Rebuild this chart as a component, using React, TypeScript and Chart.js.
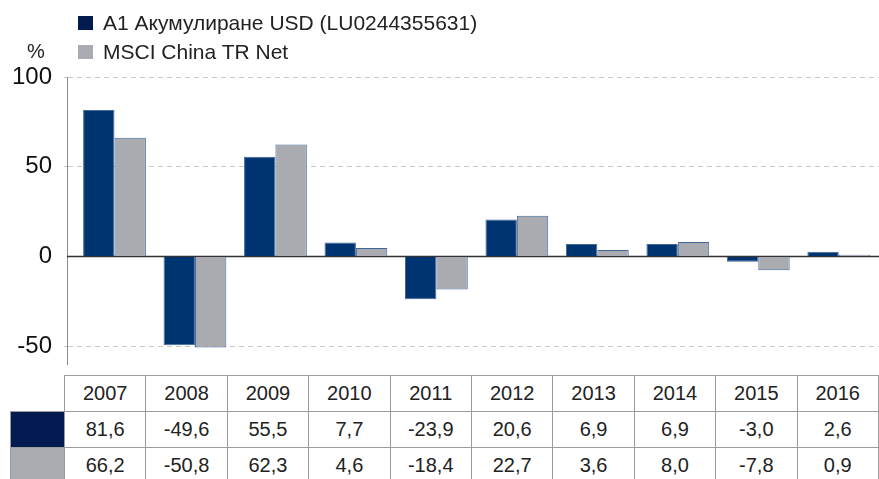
import React, { useEffect, useRef } from "react";
import { Chart, registerables } from "chart.js";

Chart.register(...registerables);

const years = ["2007", "2008", "2009", "2010", "2011", "2012", "2013", "2014", "2015", "2016"];
const fundValues = [81.6, -49.6, 55.5, 7.7, -23.9, 20.6, 6.9, 6.9, -3.0, 2.6];
const indexValues = [66.2, -50.8, 62.3, 4.6, -18.4, 22.7, 3.6, 8.0, -7.8, 0.9];
const yTicks = [-50, 0, 50, 100];
const seriesNames = ["A1 Акумулиране USD (LU0244355631)", "MSCI China TR Net"];
const seriesColors = ["#003470", "#a9abb0"];
const tableColors = ["#011a50", "#a9acb1"];

const FONT = "'Liberation Sans', Arial, sans-serif";

const fmt = (v: number) => v.toFixed(1).replace(".", ",");

export default function App() {
  const ref = useRef<HTMLCanvasElement | null>(null);

  useEffect(() => {
    if (!ref.current) return;
    const zeroLine = {
      id: "zeroLine",
      beforeDatasetsDraw(chart: any) {
        const y = chart.scales.y.getPixelForValue(0);
        const { left, right } = chart.chartArea;
        const ctx = chart.ctx;
        ctx.save();
        ctx.strokeStyle = "#333333";
        ctx.lineWidth = 1.5;
        ctx.beginPath();
        ctx.moveTo(left, y);
        ctx.lineTo(right, y);
        ctx.stroke();
        ctx.restore();
      },
    };
    const chart = new Chart(ref.current, {
      type: "bar",
      data: {
        datasets: [fundValues, indexValues].map((vals, d) => ({
          label: seriesNames[d],
          data: vals.map((v, i) => ({ x: i, y: v })),
          backgroundColor: seriesColors[d],
          borderColor: "#42679a",
          borderWidth: 1,
          categoryPercentage: 0.78,
          barPercentage: 1.0,
        })),
      },
      options: {
        animation: false,
        responsive: false,
        layout: { padding: { top: 77, bottom: 11, left: 0, right: 0 } },
        plugins: { legend: { display: false }, tooltip: { enabled: false } },
        scales: {
          x: {
            type: "linear",
            display: false,
            offset: false,
            min: -0.59,
            max: 9.5,
            afterBuildTicks: (scale: any) => {
              scale.ticks = years.map((_, i) => ({ value: i }));
            },
          },
          y: {
            min: -60,
            max: 100,
            afterBuildTicks: (scale: any) => {
              scale.ticks = yTicks.map((v) => ({ value: v }));
            },
            afterFit: (scale: any) => {
              scale.width = 67;
              scale.paddingTop = 0;
              scale.paddingBottom = 0;
            },
            border: { display: true, color: "#8a8a8a", width: 1, dash: [5, 4] },
            grid: {
              color: (c: any) => (c.tick && c.tick.value === 0 ? "rgba(0,0,0,0)" : "#c8c8c8"),
              lineWidth: 1,
              tickLength: 3,
              drawTicks: true,
              tickBorderDash: [],
            },
            ticks: {
              padding: 12,
              color: "#111111",
              font: { family: FONT, size: 24 },
              callback: (v: any) => String(v),
            },
          },
        },
      },
      plugins: [zeroLine],
    });
    return () => chart.destroy();
  }, []);

  const cellBorder = "1px solid #9c9c9c";
  const cellStyle: React.CSSProperties = {
    border: cellBorder,
    height: 35,
    padding: 0,
    textAlign: "center",
    verticalAlign: "middle",
    fontFamily: FONT,
    fontSize: 20,
    color: "#222222",
  };

  return (
    <div style={{ position: "absolute", left: 0, top: 0, width: 879, height: 479, overflow: "hidden", background: "#fff" }}>
      <canvas ref={ref} width={879} height={375} style={{ position: "absolute", left: 0, top: 0 }} />
      <div style={{ position: "absolute", left: 27, top: 40, fontFamily: FONT, fontSize: 20, color: "#222" }}>%</div>
      {seriesNames.map((name, d) => (
        <div
          key={name}
          style={{ position: "absolute", left: 78, top: 11 + d * 29, height: 24, display: "flex", alignItems: "center", fontFamily: FONT, fontSize: 21, color: "#222" }}
        >
          <span style={{ display: "inline-block", width: 15, height: 14, background: tableColors[d], marginRight: 10 }} />
          <span>{name}</span>
        </div>
      ))}
      <table
        style={{
          position: "absolute",
          left: 10,
          top: 375,
          borderCollapse: "collapse",
          tableLayout: "fixed",
          width: 868,
        }}
      >
        <colgroup>
          <col style={{ width: 54 }} />
          {years.map((y) => (
            <col key={y} style={{ width: 81.4 }} />
          ))}
        </colgroup>
        <tbody>
          <tr>
            <td style={{ ...cellStyle, border: "none", borderRight: cellBorder, borderBottom: cellBorder }} />
            {years.map((y) => (
              <td key={y} style={cellStyle}>{y}</td>
            ))}
          </tr>
          {[fundValues, indexValues].map((vals, d) => (
            <tr key={d}>
              <td style={{ ...cellStyle, background: tableColors[d] }} />
              {vals.map((v, i) => (
                <td key={i} style={cellStyle}>{fmt(v)}</td>
              ))}
            </tr>
          ))}
        </tbody>
      </table>
    </div>
  );
}
